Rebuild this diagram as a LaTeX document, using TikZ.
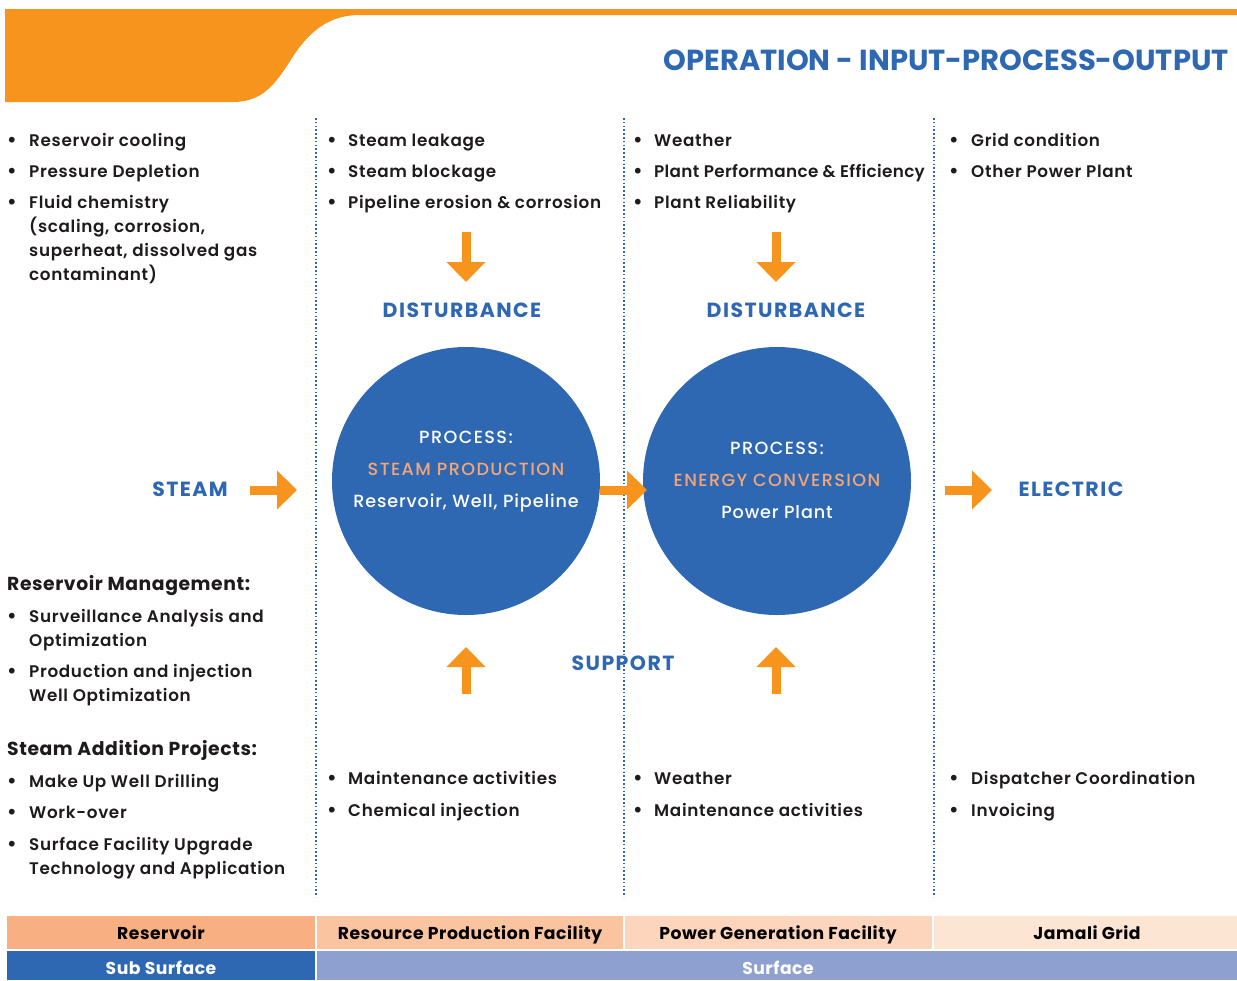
\documentclass[tikz,border=0pt]{standalone}
\usepackage{fontspec}
\setmainfont{Poppins}
\newfontfamily\bodyf{Poppins SemiBold}[LetterSpace=4]
\newfontfamily\bodytightf{Poppins SemiBold}[LetterSpace=2]
\newfontfamily\hdrf{Poppins Bold}[LetterSpace=3]
\newfontfamily\lblf{Poppins Bold}[LetterSpace=7]
\newfontfamily\circcapf{Poppins Medium}[LetterSpace=8]
\newfontfamily\circf{Poppins Medium}[LetterSpace=5]
\newfontfamily\bulf{Poppins Bold}
\usetikzlibrary{arrows.meta}
\definecolor{obar}{HTML}{F7941E}
\definecolor{bblue}{HTML}{2F68B2}
\definecolor{txtc}{HTML}{1F1B1C}
\definecolor{lorange}{HTML}{F4A676}
\definecolor{tc1}{HTML}{F8AF82}
\definecolor{tc2}{HTML}{FBC4A0}
\definecolor{tc3}{HTML}{FDD5BC}
\definecolor{tc4}{HTML}{FDE5D4}
\definecolor{surf}{HTML}{8DA0D0}
\tikzset{
  txt/.style={anchor=base west, inner sep=0pt, text=txtc, font=\bodyf\fontsize{16.8}{20}\selectfont},
  bul/.style={anchor=base west, inner sep=0pt, text=txtc, font=\bulf\fontsize{19}{20}\selectfont},
  hdr/.style={anchor=base west, inner sep=0pt, text=txtc, font=\hdrf\fontsize{18.8}{22}\selectfont},
  lbl/.style={anchor=base, inner sep=0pt, text=bblue, font=\lblf\fontsize{20.5}{24}\selectfont},
  ctext/.style={anchor=base, inner sep=0pt, text=white, font=\circf\fontsize{17.6}{20}\selectfont},
  ccap/.style={anchor=base, inner sep=0pt, text=white, font=\circcapf\fontsize{17.6}{20}\selectfont},
  corange/.style={ccap, text=lorange},
  proc/.style={circle, fill=bblue, minimum size=268pt, inner sep=0pt},
  oarrow/.style={draw=obar, line width=9pt, -{Triangle[width=38pt,length=20pt]}},
  sep/.style={draw=bblue, line width=1.6pt, dash pattern=on 1.6pt off 2.2pt},
  ttext/.style={anchor=base, inner sep=0pt, text=black, font=\hdrf\fontsize{17.2}{20}\selectfont},
}
\begin{document}
\begin{tikzpicture}[x=1pt,y=-1pt]
\useasboundingbox (0,0) rectangle (1237,980);
% header band
\fill[obar] (5,9) -- (1237,9) -- (1237,15) -- (360,15)
  .. controls (330,15) and (310,30) .. (292,58)
  .. controls (275,85) and (262,102) .. (233,102) -- (5,102) -- cycle;
\node[anchor=base east, inner sep=0pt, text=bblue, font=\bfseries\fontsize{29}{34}\selectfont] (title) at (1229,70) {OPERATION - INPUT-PROCESS-OUTPUT};

% separators
\coordinate (s1t) at (316,118); \coordinate (s1b) at (316,897);
\coordinate (s2t) at (624,118); \coordinate (s2b) at (624,897);
\coordinate (s3t) at (934,118); \coordinate (s3b) at (934,897);
\draw[sep] (s1t) -- (s1b);
\draw[sep] (s2t) -- (s2b);
\draw[sep] (s3t) -- (s3b);

% column 1 top
\node[bul] (b11) at (7,146) {•}; \node[txt] (t11) at (29,146) {Reservoir cooling};
\node[bul] (b12) at (7,177) {•}; \node[txt] (t12) at (29,177) {Pressure Depletion};
\node[bul] (b13) at (7,208) {•}; \node[txt] (t13) at (29,208) {Fluid chemistry};
\node[txt] (t13b) at (29,232) {(scaling, corrosion,};
\node[txt] (t13c) at (29,256) {superheat, dissolved gas};
\node[txt] (t13d) at (29,280) {contaminant)};

% column 2 top
\node[bul] (b21) at (327,146) {•}; \node[txt] (t21) at (348,146) {Steam leakage};
\node[bul] (b22) at (327,177) {•}; \node[txt] (t22) at (348,177) {Steam blockage};
\node[bul] (b23) at (327,208) {•}; \node[txt] (t23) at (348,208) {Pipeline erosion \& corrosion};

% column 3 top
\node[bul] (b31) at (633,146) {•}; \node[txt] (t31) at (654,146) {Weather};
\node[bul] (b32) at (633,177) {•}; \node[txt, font=\bodytightf\fontsize{16.8}{20}\selectfont] (t32) at (654,177) {Plant Performance \& Efficiency};
\node[bul] (b33) at (633,208) {•}; \node[txt] (t33) at (654,208) {Plant Reliability};

% column 4 top
\node[bul] (b41) at (949,146) {•}; \node[txt] (t41) at (971,146) {Grid condition};
\node[bul] (b42) at (949,177) {•}; \node[txt] (t42) at (971,177) {Other Power Plant};

% disturbance arrows
\coordinate (d1s) at (466,232); \coordinate (d1e) at (466,282);
\coordinate (d2s) at (776,232); \coordinate (d2e) at (776,282);
\draw[oarrow] (d1s) -- (d1e);
\draw[oarrow] (d2s) -- (d2e);
\node[lbl] (dist1) at (462,317) {DISTURBANCE};
\node[lbl] (dist2) at (786,317) {DISTURBANCE};

% circles
\node[proc] (c1) at (466,481) {};
\node[proc] (c2) at (777,481) {};
\node[ccap] (c1a) at (466,443) {PROCESS:};
\node[corange] (c1b) at (466,475) {STEAM PRODUCTION};
\node[ctext] (c1c) at (466,507) {Reservoir, Well, Pipeline};
\node[ccap] (c2a) at (777,454) {PROCESS:};
\node[corange] (c2b) at (777,486) {ENERGY CONVERSION};
\node[ctext] (c2c) at (777,518) {Power Plant};

% input/output
\node[lbl] (steam) at (190,496) {STEAM};
\coordinate (ia) at (250,490); \coordinate (ib) at (297,490);
\draw[oarrow] (ia) -- (ib);
\coordinate (mb) at (647,490);
\draw[oarrow] (c1.east |- mb) -- (mb);
\coordinate (oa) at (945,490); \coordinate (ob) at (992,490);
\draw[oarrow] (oa) -- (ob);
\node[lbl] (elec) at (1071,496) {ELECTRIC};

% support arrows
\coordinate (u1s) at (466,694); \coordinate (u1e) at (466,647);
\coordinate (u2s) at (776,694); \coordinate (u2e) at (776,647);
\draw[oarrow] (u1s) -- (u1e);
\draw[oarrow] (u2s) -- (u2e);
\node[lbl] (supp) at (623,670) {SUPPORT};

% column 1 bottom
\node[hdr] (h1) at (7,590) {Reservoir Management:};
\node[bul] (b51) at (7,622) {•}; \node[txt] (t51) at (29,622) {Surveillance Analysis and};
\node[txt] (t51b) at (29,646) {Optimization};
\node[bul] (b52) at (7,677) {•}; \node[txt] (t52) at (29,677) {Production and injection};
\node[txt] (t52b) at (29,701) {Well Optimization};
\node[hdr] (h2) at (7,755) {Steam Addition Projects:};
\node[bul] (b61) at (7,787) {•}; \node[txt] (t61) at (29,787) {Make Up Well Drilling};
\node[bul] (b62) at (7,818) {•}; \node[txt] (t62) at (29,818) {Work-over};
\node[bul] (b63) at (7,850) {•}; \node[txt] (t63) at (29,850) {Surface Facility Upgrade};
\node[txt] (t63b) at (29,874) {Technology and Application};

% bottom bullets
\node[bul] (b71) at (327,784) {•}; \node[txt] (t71) at (348,784) {Maintenance activities};
\node[bul] (b72) at (327,816) {•}; \node[txt] (t72) at (348,816) {Chemical injection};
\node[bul] (b81) at (633,784) {•}; \node[txt] (t81) at (654,784) {Weather};
\node[bul] (b82) at (633,816) {•}; \node[txt] (t82) at (654,816) {Maintenance activities};
\node[bul] (b91) at (949,784) {•}; \node[txt] (t91) at (971,784) {Dispatcher Coordination};
\node[bul] (b92) at (949,816) {•}; \node[txt] (t92) at (971,816) {Invoicing};

% table
\fill[tc1] (7,916) rectangle (315,949);
\fill[tc2] (317,916) rectangle (623,949);
\fill[tc3] (625,916) rectangle (932,949);
\fill[tc4] (934,916) rectangle (1237,949);
\fill[bblue] (7,951) rectangle (315,980);
\fill[surf] (317,951) rectangle (1237,980);
\node[ttext] (r1) at (161,939) {Reservoir};
\node[ttext] (r2) at (470,939) {Resource Production Facility};
\node[ttext] (r3) at (778,939) {Power Generation Facility};
\node[ttext] (r4) at (1087,939) {Jamali Grid};
\node[ttext, text=white] (r5) at (161,974) {Sub Surface};
\node[ttext, text=white] (r6) at (778,974) {Surface};
\end{tikzpicture}
\end{document}
